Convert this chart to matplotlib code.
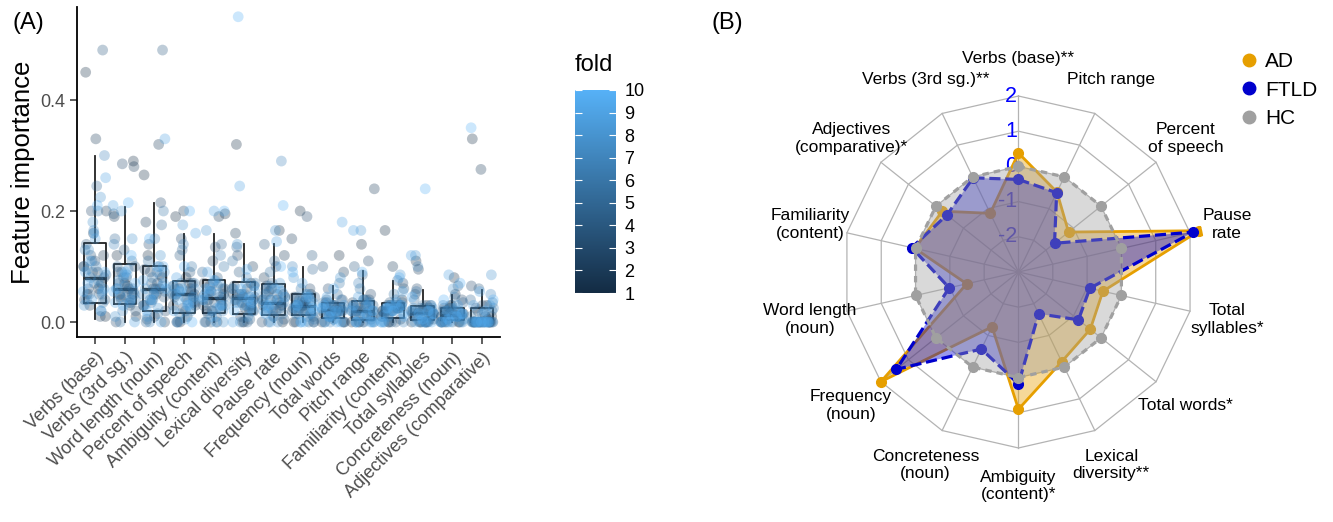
"""
Feature importance boxplots per fold (A) and radar chart of group profiles (B)
"""

import matplotlib
matplotlib.use('Agg')
import matplotlib.pyplot as plt
import matplotlib.colors as mcolors
import matplotlib.colorbar as mcolorbar
from matplotlib.lines import Line2D
import numpy as np

plt.rcParams['font.family'] = ['Liberation Sans', 'DejaVu Sans']

#################################
# Panel A data                  #
#################################

FEATURES = ['Verbs (base)', 'Verbs (3rd sg.)', 'Word length (noun)', 'Percent of speech',
            'Ambiguity (content)', 'Lexical diversity', 'Pause rate', 'Frequency (noun)',
            'Total words', 'Pitch range', 'Familiarity (content)', 'Total syllables',
            'Concreteness (noun)', 'Adjectives (comparative)']

# importance values, 6 per fold, folds 1..10 in order
IMP_VERBS_BASE = [0.45, 0.06, 0.01, 0.16, 0.07, 0.10, 0.33, 0.12, 0.03, 0.20, 0.05, 0.09,
                  0.20, 0.08, 0.04, 0.01, 0.11, 0.06, 0.49, 0.09, 0.05, 0.14, 0.04, 0.12,
                  0.245, 0.10, 0.02, 0.07, 0.085, 0.05, 0.20, 0.13, 0.035, 0.11, 0.065, 0.095,
                  0.30, 0.165, 0.05, 0.08, 0.10, 0.04, 0.225, 0.03, 0.06, 0.18, 0.075, 0.13,
                  0.26, 0.04, 0.15, 0.09, 0.055, 0.11, 0.21, 0.055, 0.02, 0.16, 0.09, 0.07]
IMP_VERBS_3RD = [0.29, 0.05, 0.01, 0.12, 0.065, 0.04, 0.28, 0.19, 0.03, 0.07, 0.09, 0.05,
                 0.285, 0.06, 0.0, 0.10, 0.045, 0.08, 0.195, 0.04, 0.13, 0.02, 0.07, 0.055,
                 0.15, 0.06, 0.09, 0.035, 0.10, 0.05, 0.08, 0.11, 0.0, 0.045, 0.06, 0.035,
                 0.14, 0.055, 0.02, 0.095, 0.075, 0.04, 0.20, 0.065, 0.01, 0.15, 0.05, 0.085,
                 0.21, 0.04, 0.085, 0.0, 0.06, 0.035, 0.215, 0.07, 0.03, 0.12, 0.055, 0.09]
IMP_WORD_LENGTH = [0.265, 0.06, 0.01, 0.12, 0.08, 0.04, 0.32, 0.18, 0.0, 0.09, 0.05, 0.03,
                   0.215, 0.05, 0.02, 0.14, 0.07, 0.095, 0.49, 0.07, 0.10, 0.005, 0.045, 0.06,
                   0.175, 0.04, 0.06, 0.0, 0.085, 0.03, 0.20, 0.08, 0.015, 0.11, 0.055, 0.035,
                   0.15, 0.03, 0.065, 0.0, 0.09, 0.05, 0.12, 0.05, 0.09, 0.01, 0.06, 0.025,
                   0.33, 0.04, 0.0, 0.075, 0.055, 0.10, 0.15, 0.06, 0.02, 0.10, 0.04, 0.07]
IMP_PERCENT_SPEECH = [0.19, 0.05, 0.0, 0.08, 0.03, 0.06, 0.20, 0.03, 0.06, 0.01, 0.045, 0.07,
                      0.15, 0.07, 0.0, 0.045, 0.025, 0.055, 0.12, 0.02, 0.05, 0.09, 0.065, 0.035,
                      0.13, 0.055, 0.0, 0.035, 0.07, 0.045, 0.06, 0.10, 0.015, 0.04, 0.05, 0.025,
                      0.14, 0.07, 0.0, 0.05, 0.035, 0.06, 0.175, 0.02, 0.065, 0.005, 0.045, 0.055,
                      0.16, 0.08, 0.03, 0.055, 0.04, 0.02, 0.20, 0.10, 0.04, 0.0, 0.06, 0.03]
IMP_AMBIGUITY = [0.195, 0.04, 0.0, 0.07, 0.03, 0.055, 0.19, 0.02, 0.05, 0.11, 0.04, 0.065,
                 0.135, 0.0, 0.045, 0.03, 0.06, 0.02, 0.08, 0.015, 0.06, 0.0, 0.035, 0.05,
                 0.14, 0.05, 0.01, 0.09, 0.025, 0.07, 0.10, 0.035, 0.0, 0.065, 0.045, 0.02,
                 0.12, 0.04, 0.075, 0.02, 0.055, 0.03, 0.165, 0.025, 0.055, 0.0, 0.04, 0.07,
                 0.20, 0.09, 0.03, 0.01, 0.05, 0.06, 0.20, 0.06, 0.0, 0.045, 0.03, 0.075]
IMP_LEXICAL = [0.32, 0.04, 0.0, 0.07, 0.05, 0.025, 0.16, 0.02, 0.05, 0.10, 0.035, 0.06,
               0.12, 0.045, 0.01, 0.0, 0.065, 0.03, 0.09, 0.03, 0.06, 0.005, 0.045, 0.02,
               0.135, 0.04, 0.0, 0.065, 0.05, 0.03, 0.11, 0.05, 0.02, 0.035, 0.07, 0.04,
               0.08, 0.0, 0.04, 0.06, 0.025, 0.045, 0.14, 0.025, 0.05, 0.01, 0.035, 0.065,
               0.245, 0.07, 0.0, 0.045, 0.03, 0.055, 0.55, 0.095, 0.02, 0.035, 0.06, 0.04]
IMP_PAUSE = [0.165, 0.03, 0.0, 0.06, 0.04, 0.02, 0.12, 0.04, 0.01, 0.08, 0.03, 0.055,
             0.10, 0.0, 0.035, 0.02, 0.05, 0.065, 0.14, 0.05, 0.005, 0.07, 0.025, 0.04,
             0.11, 0.03, 0.0, 0.045, 0.06, 0.02, 0.09, 0.015, 0.04, 0.06, 0.03, 0.05,
             0.29, 0.025, 0.0, 0.05, 0.035, 0.065, 0.165, 0.035, 0.07, 0.01, 0.045, 0.025,
             0.145, 0.02, 0.055, 0.0, 0.04, 0.03, 0.21, 0.04, 0.10, 0.03, 0.06, 0.015]
IMP_FREQUENCY = [0.20, 0.03, 0.0, 0.05, 0.02, 0.04, 0.15, 0.02, 0.04, 0.01, 0.03, 0.045,
                 0.19, 0.0, 0.03, 0.06, 0.02, 0.035, 0.12, 0.015, 0.045, 0.0, 0.03, 0.025,
                 0.095, 0.025, 0.0, 0.035, 0.045, 0.015, 0.06, 0.01, 0.03, 0.0, 0.04, 0.02,
                 0.10, 0.04, 0.02, 0.005, 0.03, 0.05, 0.08, 0.03, 0.0, 0.05, 0.015, 0.035,
                 0.07, 0.015, 0.035, 0.0, 0.025, 0.045, 0.09, 0.025, 0.0, 0.045, 0.03, 0.02]
IMP_TOTAL_WORDS = [0.12, 0.02, 0.0, 0.035, 0.015, 0.025, 0.09, 0.01, 0.025, 0.0, 0.03, 0.02,
                   0.06, 0.0, 0.03, 0.015, 0.02, 0.04, 0.10, 0.02, 0.005, 0.04, 0.025, 0.01,
                   0.05, 0.0, 0.025, 0.01, 0.03, 0.02, 0.07, 0.03, 0.0, 0.02, 0.015, 0.035,
                   0.04, 0.0, 0.015, 0.025, 0.02, 0.03, 0.08, 0.035, 0.005, 0.0, 0.02, 0.025,
                   0.18, 0.02, 0.0, 0.045, 0.03, 0.01, 0.06, 0.03, 0.0, 0.01, 0.02, 0.025]
IMP_PITCH = [0.14, 0.02, 0.0, 0.04, 0.01, 0.03, 0.24, 0.01, 0.03, 0.0, 0.02, 0.035,
             0.11, 0.0, 0.02, 0.05, 0.025, 0.01, 0.10, 0.03, 0.0, 0.015, 0.02, 0.04,
             0.085, 0.0, 0.02, 0.04, 0.03, 0.005, 0.06, 0.025, 0.0, 0.01, 0.02, 0.035,
             0.07, 0.0, 0.015, 0.035, 0.025, 0.0, 0.165, 0.03, 0.0, 0.02, 0.01, 0.04,
             0.165, 0.0, 0.045, 0.01, 0.02, 0.03, 0.09, 0.02, 0.0, 0.03, 0.015, 0.0]
IMP_FAMILIARITY = [0.165, 0.03, 0.0, 0.04, 0.02, 0.025, 0.10, 0.02, 0.005, 0.03, 0.025, 0.015,
                   0.07, 0.0, 0.025, 0.01, 0.03, 0.02, 0.06, 0.03, 0.0, 0.02, 0.025, 0.035,
                   0.075, 0.02, 0.035, 0.0, 0.03, 0.01, 0.05, 0.0, 0.025, 0.01, 0.03, 0.02,
                   0.04, 0.025, 0.0, 0.03, 0.02, 0.01, 0.085, 0.01, 0.03, 0.0, 0.025, 0.02,
                   0.055, 0.025, 0.0, 0.035, 0.015, 0.03, 0.08, 0.0, 0.02, 0.03, 0.025, 0.01]
IMP_SYLLABLES = [0.11, 0.02, 0.0, 0.03, 0.01, 0.015, 0.095, 0.01, 0.0, 0.025, 0.02, 0.005,
                 0.06, 0.0, 0.015, 0.03, 0.02, 0.0, 0.05, 0.02, 0.0, 0.005, 0.015, 0.025,
                 0.04, 0.0, 0.02, 0.01, 0.025, 0.0, 0.055, 0.015, 0.0, 0.03, 0.02, 0.01,
                 0.10, 0.0, 0.02, 0.01, 0.015, 0.025, 0.12, 0.025, 0.0, 0.015, 0.01, 0.02,
                 0.12, 0.0, 0.03, 0.005, 0.015, 0.0, 0.24, 0.015, 0.0, 0.045, 0.02, 0.005]
IMP_CONCRETENESS = [0.08, 0.01, 0.0, 0.03, 0.015, 0.02, 0.05, 0.0, 0.015, 0.025, 0.01, 0.0,
                    0.04, 0.02, 0.0, 0.005, 0.015, 0.025, 0.065, 0.0, 0.012, 0.03, 0.02, 0.005,
                    0.035, 0.015, 0.0, 0.02, 0.01, 0.0, 0.045, 0.0, 0.01, 0.025, 0.015, 0.02,
                    0.03, 0.01, 0.0, 0.015, 0.02, 0.0, 0.06, 0.0, 0.02, 0.005, 0.01, 0.025,
                    0.085, 0.015, 0.0, 0.03, 0.01, 0.0, 0.07, 0.0, 0.01, 0.04, 0.015, 0.005]
IMP_ADJECTIVES = [0.33, 0.0, 0.0, 0.03, 0.0, 0.01, 0.275, 0.0, 0.02, 0.0, 0.0, 0.005,
                  0.065, 0.0, 0.0, 0.01, 0.025, 0.0, 0.06, 0.03, 0.0, 0.0, 0.0, 0.015,
                  0.04, 0.0, 0.0, 0.02, 0.0, 0.0, 0.0, 0.035, 0.0, 0.0, 0.01, 0.0,
                  0.05, 0.0, 0.025, 0.0, 0.0, 0.0, 0.085, 0.0, 0.0, 0.015, 0.0, 0.03,
                  0.055, 0.0, 0.03, 0.0, 0.0, 0.0, 0.35, 0.0, 0.0, 0.04, 0.0, 0.02]

IMPORTANCE = [IMP_VERBS_BASE, IMP_VERBS_3RD, IMP_WORD_LENGTH, IMP_PERCENT_SPEECH,
              IMP_AMBIGUITY, IMP_LEXICAL, IMP_PAUSE, IMP_FREQUENCY, IMP_TOTAL_WORDS,
              IMP_PITCH, IMP_FAMILIARITY, IMP_SYLLABLES, IMP_CONCRETENESS, IMP_ADJECTIVES]
FOLDS = [f for f in range(1, 11) for _ in range(6)]

# box statistics
BOX_LO = [0.005, 0.0, 0.0, 0.0, 0.0, 0.0, 0.0, 0.0, 0.0, 0.0, 0.0, 0.0, 0.0, 0.0]
BOX_Q1 = [0.035, 0.032, 0.019, 0.016, 0.016, 0.014, 0.013, 0.013, 0.007, 0.004, 0.007, 0.004, 0.003, 0.0]
BOX_MED = [0.079, 0.060, 0.059, 0.050, 0.044, 0.043, 0.035, 0.029, 0.022, 0.019, 0.025, 0.016, 0.013, 0.0]
BOX_Q3 = [0.143, 0.104, 0.101, 0.074, 0.076, 0.073, 0.068, 0.050, 0.035, 0.038, 0.035, 0.028, 0.026, 0.025]
BOX_HI = [0.299, 0.207, 0.215, 0.158, 0.158, 0.140, 0.141, 0.100, 0.065, 0.092, 0.074, 0.058, 0.049, 0.058]

# horizontal jitter offsets (x units)
JITTER = [-0.31, 0.12, 0.35, -0.05, 0.22, -0.38, 0.03, 0.29, -0.17, 0.38,
          -0.26, 0.09, -0.12, 0.31, -0.35, 0.18, 0.0, -0.22, 0.26, -0.08,
          0.14, -0.29, 0.34, -0.14, 0.06, -0.37, 0.21, -0.02, 0.37, -0.19,
          0.10, -0.33, 0.27, -0.10, 0.16, -0.25, 0.32, -0.04, 0.24, -0.15,
          0.04, -0.28, 0.19, -0.36, 0.30, -0.07, 0.11, -0.21, 0.36, -0.11,
          0.01, -0.32, 0.25, -0.16, 0.08, -0.39, 0.20, -0.03, 0.33, -0.24]

#################################
# Panel B data                  #
#################################

RADAR_LABELS = ['Verbs (base)**', 'Pitch range', 'Percent\nof speech', 'Pause\nrate',
                'Total\nsyllables*', 'Total words*', 'Lexical\ndiversity**', 'Ambiguity\n(content)*',
                'Concreteness\n(noun)', 'Frequency\n(noun)', 'Word length\n(noun)',
                'Familiarity\n(content)', 'Adjectives\n(comparative)*', 'Verbs (3rd sg.)**']
AD = [0.38, -0.48, -1.18, 2.27, -0.54, -0.39, -0.17, 0.90, -1.27, 2.00, -1.49, 0.02, -0.23, -1.15]
FTLD = [-0.37, -0.50, -1.69, 2.09, -0.92, -0.82, -1.68, 0.18, -0.57, 1.44, -0.98, 0.11, -0.40, -0.03]
HC = [0.0, 0.0, 0.0, 0.0, 0.0, 0.0, 0.0, 0.0, 0.0, 0.0, 0.0, 0.0, 0.0, 0.0]
GROUPS = ['AD', 'FTLD', 'HC']
RADAR_TICKS = [-2, -1, 0, 1, 2]
RADAR_MIN = -3
RADAR_MAX = 2


def fold_panel(fig):
    ax = fig.add_axes([0.0578, 0.3544, 0.3173, 0.6322])
    cmap = mcolors.LinearSegmentedColormap.from_list('fold', ['#132B43', '#56B1F7'])
    norm = mcolors.Normalize(1, 10)

    stats = []
    for k in range(len(FEATURES)):
        stats.append(dict(med=BOX_MED[k], q1=BOX_Q1[k], q3=BOX_Q3[k],
                          whislo=BOX_LO[k], whishi=BOX_HI[k], fliers=[]))
    ax.bxp(stats, positions=range(len(FEATURES)), widths=0.75, showfliers=False, showcaps=False,
           boxprops=dict(color='#222222', lw=1.3), whiskerprops=dict(color='#222222', lw=1.3),
           medianprops=dict(color='#222222', lw=2.4), manage_ticks=False)

    for k, vals in enumerate(IMPORTANCE):
        xs = [k + JITTER[(i + 7 * k) % len(JITTER)] for i in range(len(vals))]
        ax.scatter(xs, vals, c=FOLDS, cmap=cmap, norm=norm, s=60, alpha=0.3,
                   linewidths=0, zorder=3)

    ax.set_xlim(-0.6, len(FEATURES) - 0.4)
    ax.set_ylim(-0.027, 0.5676)
    ax.set_xticks(range(len(FEATURES)))
    ax.set_xticklabels(FEATURES, rotation=45, ha='right', va='top', rotation_mode='anchor')
    ax.set_yticks([0.0, 0.2, 0.4])
    ax.set_yticklabels(['0.0', '0.2', '0.4'])
    ax.tick_params(axis='both', labelsize=13, labelcolor='#4D4D4D', color='#333333',
                   length=5, width=1.1)
    for side in ['top', 'right']:
        ax.spines[side].set_visible(False)
    for side in ['left', 'bottom']:
        ax.spines[side].set_linewidth(1.3)
    ax.set_ylabel('Feature importance', fontsize=18.5, labelpad=4)

    # colour legend
    cax = fig.add_axes([575 / 1333, 1 - 293 / 522, 41 / 1333, 203 / 522])
    cb = mcolorbar.ColorbarBase(cax, cmap=cmap, norm=norm, ticks=range(1, 11))
    cb.outline.set_visible(False)
    cax.tick_params(left=True, right=True, direction='in', color='white', length=5,
                    width=0.8, labelsize=13, pad=6)
    fig.text(575 / 1333, 1 - 65 / 522, 'fold', fontsize=17, va='center')
    fig.text(13 / 1333, 1 - 12 / 522, '(A)', fontsize=17, va='top')


def radar_panel(fig):
    ax = fig.add_axes([0.6228, 0.1182, 0.2825, 0.7215], projection='polar')
    ax.set_theta_zero_location('N')
    ax.set_theta_direction(-1)
    ax.set_ylim(RADAR_MIN, 2.35)
    ax.grid(False)
    ax.spines['polar'].set_visible(False)
    ax.set_xticks([])
    ax.set_yticks([])
    ax.patch.set_alpha(0)

    n = len(RADAR_LABELS)
    angles = np.linspace(0, 2 * np.pi, n, endpoint=False)
    closed = np.append(angles, angles[0])

    for r in RADAR_TICKS:
        ax.plot(closed, [r] * (n + 1), color='#b3b3b3', lw=0.9, zorder=1)
    for a in angles:
        ax.plot([a, a], [RADAR_MIN, RADAR_MAX], color='#b3b3b3', lw=0.9, zorder=1)
    for r in RADAR_TICKS:
        ax.annotate(str(r), xy=(0, r), xytext=(-1, 0), textcoords='offset points',
                    ha='right', va='center', color='#0000FF', fontsize=15.5, zorder=1)
    for a, lab in zip(angles, RADAR_LABELS):
        ax.text(a, 3.08, lab, ha='center', va='center', fontsize=12.5, multialignment='center')

    styles = [('#E69F00', '-', 2.0), ('#0000CD', (0, (3.5, 1.5)), 2.3), ('#A0A0A0', (0, (2, 1.6)), 2.3)]
    for z, (vals, (col, ls, lw)) in enumerate(zip([AD, FTLD, HC], styles)):
        v = np.append(vals, vals[0])
        ax.fill(closed, v, color=col, alpha=0.4, lw=0, zorder=2 + z)
        ax.plot(closed, v, color=col, lw=lw, ls=ls, zorder=2 + z)
        ax.plot(angles, vals, 'o', color=col, ms=7, zorder=2 + z)

    handles = [Line2D([], [], marker='o', ls='', color=c, ms=9) for c, _, _ in styles]
    fig.legend(handles, GROUPS, loc='upper left', bbox_to_anchor=(1230 / 1333, 1 - 44 / 522),
               frameon=False, fontsize=15, handletextpad=0.3, labelspacing=0.45,
               handlelength=1.0, borderaxespad=0)
    fig.text(712 / 1333, 1 - 12 / 522, '(B)', fontsize=17, va='top')


def main():
    fig = plt.figure(figsize=(13.33, 5.22), dpi=100)
    fig.set_facecolor('white')
    fold_panel(fig)
    radar_panel(fig)
    plt.savefig('out.png', dpi=100)
    plt.close()


if __name__ == "__main__":
    main()
